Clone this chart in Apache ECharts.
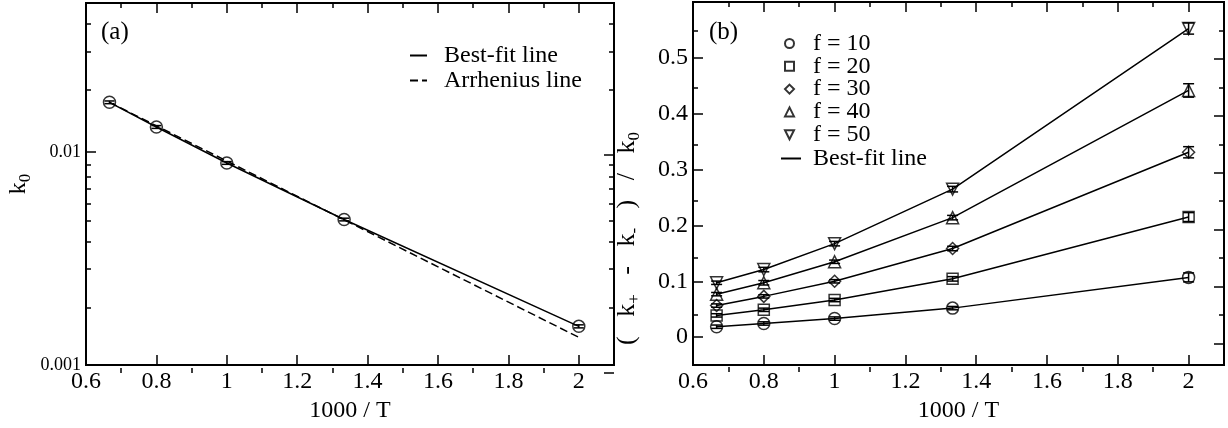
<!DOCTYPE html>
<html><head><meta charset="utf-8">
<script src="https://cdn.jsdelivr.net/npm/echarts@6/dist/echarts.min.js"></script>
<style>html,body{margin:0;padding:0;background:#fff}#c{width:1228px;height:428px}</style>
</head><body><div id="c"></div>
<script>
// ---------- data ----------
const invT = [0.6667, 0.8, 1.0, 1.3333, 2.0];
const k0 = [0.0171, 0.0131, 0.00888, 0.00482, 0.00152];
const k0Err = [0.00025, 0.0002, 0.00013, 0.00007, 0.000025];
const bestFitX = [0.6667, 0.8, 1.0, 1.3333, 2.0];
const bestFitA = [0.0171, 0.0131, 0.00888, 0.00482, 0.00152];
const arrheniusX = [0.6667, 2.0];
const arrheniusA = [0.0171, 0.00135];

const f10 = [0.0187, 0.0245, 0.0333, 0.052, 0.107];
const f20 = [0.039, 0.049, 0.0665, 0.1044, 0.215];
const f30 = [0.0566, 0.073, 0.100, 0.1587, 0.331];
const f40 = [0.077, 0.0974, 0.135, 0.214, 0.4417];
const f50 = [0.0974, 0.121, 0.1674, 0.265, 0.5525];
const err10 = [0.003, 0.003, 0.003, 0.003, 0.008];
const err20 = [0.003, 0.003, 0.003, 0.004, 0.008];
const err30 = [0.003, 0.003, 0.003, 0.004, 0.010];
const err40 = [0.003, 0.004, 0.003, 0.004, 0.012];
const err50 = [0.003, 0.004, 0.004, 0.005, 0.010];
const fNames = ['f = 10', 'f = 20', 'f = 30', 'f = 40', 'f = 50'];

const xMajorTicks = [0.6, 0.8, 1, 1.2, 1.4, 1.6, 1.8, 2];
const xMinorTicks = [0.7, 0.9, 1.1, 1.3, 1.5, 1.7, 1.9];
const yLabelsA = [0.001, 0.01];
const yMinorTicksA = [0.002, 0.003, 0.004, 0.005, 0.006, 0.007, 0.008, 0.009, 0.02, 0.03, 0.04];
const yMajorTicksB = [0, 0.1, 0.2, 0.3, 0.4, 0.5, 0.6];
const yLabelsB = [0, 0.1, 0.2, 0.3, 0.4, 0.5];
const yMinorTicksB = [0.05, 0.15, 0.25, 0.35, 0.45, 0.55];
const xName = '1000 / T';

// ---------- chart ----------
const font = 'Liberation Serif';
const black = '#000';
const clear = 'rgba(0,0,0,0)';
const rectA = {left: 86, top: 3, width: 528, height: 370};
const rectB = {left: 693, top: 2, width: 531, height: 370};
const kMin = 0.001, kMax = 0.05;

const grids = [], xAxes = [], yAxes = [];
function tickStyle(vals, len) {
  const t = {show: true, inside: true, length: len, lineStyle: {color: black, width: 1.5}};
  if (vals) t.customValues = vals;
  return t;
}
// roles: 0 = bottom/left major (+labels, names, series), 1 = bottom/left minor, 2 = top/right major, 3 = top/right minor
function addPanel(rect, yCfg) {
  for (let role = 0; role < 4; role++) {
    const gi = grids.length;
    grids.push(Object.assign({show: role === 0, borderColor: black, borderWidth: 2, backgroundColor: 'transparent', containLabel: false}, rect));
    const far = role >= 2, major = role % 2 === 0;
    const xa = {
      type: 'value', gridIndex: gi, position: far ? 'top' : 'bottom', min: 0.6, max: 2.1,
      axisLine: {show: false, onZero: false}, splitLine: {show: false},
      axisTick: tickStyle(major ? xMajorTicks : xMinorTicks, major ? 10 : 5),
      axisLabel: {show: false}
    };
    const ya = Object.assign({
      gridIndex: gi, position: far ? 'right' : 'left',
      axisLine: {show: false, onZero: false}, splitLine: {show: false},
      axisTick: tickStyle(major ? yCfg.major : yCfg.minor, major ? 10 : 5),
      axisLabel: {show: false}
    }, major ? yCfg.scale : yCfg.minorScale);
    if (role === 0) {
      xa.axisLabel = {show: true, customValues: xMajorTicks, margin: 5, color: black, fontFamily: font, fontSize: 24};
      xa.name = xName; xa.nameLocation = 'middle'; xa.nameGap = 29;
      xa.nameTextStyle = {color: black, fontFamily: font, fontSize: 24};
      ya.axisLabel = {show: true, customValues: yCfg.labels, margin: 5, color: black, fontFamily: font, fontSize: yCfg.labelSize};
      ya.name = yCfg.name; ya.nameLocation = 'middle'; ya.nameGap = yCfg.nameGap;
      ya.nameTextStyle = {color: black, fontFamily: font, fontSize: yCfg.nameSize, padding: yCfg.namePad,
        rich: {
          n: {fontFamily: font, fontSize: yCfg.nameSize, lineHeight: yCfg.nameSize + 3, verticalAlign: 'top', color: black},
          s: {fontFamily: font, fontSize: 17, lineHeight: 17, verticalAlign: 'bottom', color: black}
        }};
    }
    xAxes.push(xa); yAxes.push(ya);
  }
}
// panel (a): log axis; minor ticks placed on a companion axis spanning the same decades
addPanel(rectA, {
  scale: {type: 'log', logBase: 10, min: kMin, max: kMax},
  minorScale: {type: 'value', min: Math.log10(kMin), max: Math.log10(kMax)},
  major: null, minor: yMinorTicksA.map(Math.log10), labels: yLabelsA, labelSize: 18,
  name: '{n|k}{s|0}', nameSize: 24, nameGap: 52, namePad: [0, 0, 0, 0]
});
addPanel(rectB, {
  scale: {type: 'value', min: -0.05, max: 0.6},
  minorScale: {type: 'value', min: -0.05, max: 0.6},
  major: yMajorTicksB, minor: yMinorTicksB, labels: yLabelsB, labelSize: 24,
  name: '{n|(   k}{s|+}{n|   -   k}{s|-}{n|   )   /   k}{s|0}', nameSize: 26, nameGap: 50, namePad: [0, 110, 0, 0]
});

function errBarSeries(axisIdx, vals, errs, capHalf) {
  return {
    type: 'custom', xAxisIndex: axisIdx, yAxisIndex: axisIdx, silent: true, z: 4,
    data: invT.map((x, i) => [x, vals[i] - errs[i], vals[i] + errs[i]]),
    renderItem: function (params, api) {
      const lo = api.coord([api.value(0), api.value(1)]);
      const hi = api.coord([api.value(0), api.value(2)]);
      const st = {stroke: black, lineWidth: 1.5};
      return {type: 'group', children: [
        {type: 'line', shape: {x1: lo[0], y1: lo[1], x2: hi[0], y2: hi[1]}, style: st},
        {type: 'line', shape: {x1: lo[0] - capHalf, y1: lo[1], x2: lo[0] + capHalf, y2: lo[1]}, style: st},
        {type: 'line', shape: {x1: hi[0] - capHalf, y1: hi[1], x2: hi[0] + capHalf, y2: hi[1]}, style: st}
      ]};
    }
  };
}
const hollow = {color: clear, borderColor: black, borderWidth: 1.5};
const lineItem = {color: clear, borderColor: clear, borderWidth: 0};
const series = [];
// panel (a)
series.push({type: 'line', name: 'Best-fit line', xAxisIndex: 0, yAxisIndex: 0, symbol: 'none',
  data: bestFitX.map((x, i) => [x, bestFitA[i]]), lineStyle: {color: black, width: 1.5}, itemStyle: lineItem, z: 3});
series.push({type: 'line', name: 'Arrhenius line', xAxisIndex: 0, yAxisIndex: 0, symbol: 'none',
  data: arrheniusX.map((x, i) => [x, arrheniusA[i]]), lineStyle: {color: black, width: 1.5, type: [8, 4]}, itemStyle: lineItem, z: 3});
series.push({type: 'scatter', name: 'k0', xAxisIndex: 0, yAxisIndex: 0, symbol: 'circle', symbolSize: 12,
  data: invT.map((x, i) => [x, k0[i]]), itemStyle: hollow, z: 5});
series.push(errBarSeries(0, k0, k0Err, 5));
// panel (b)
const fData = [f10, f20, f30, f40, f50];
const fErr = [err10, err20, err30, err40, err50];
const fSym = ['circle', 'rect', 'diamond', 'triangle', 'path://M0,0L10,0L5,10Z'];
const fSize = [12, 11, 12, 12, 12];
fData.forEach((d) => {
  series.push({type: 'line', name: 'Best-fit line', xAxisIndex: 4, yAxisIndex: 4, symbol: 'none',
    data: invT.map((x, i) => [x, d[i]]), lineStyle: {color: black, width: 1.5}, itemStyle: lineItem, z: 3});
});
fData.forEach((d, k) => {
  series.push({type: 'scatter', name: fNames[k], xAxisIndex: 4, yAxisIndex: 4, symbol: fSym[k], symbolKeepAspect: true,
    symbolSize: fSize[k], data: invT.map((x, i) => [x, d[i]]), itemStyle: hollow, z: 5});
  series.push(errBarSeries(4, d, fErr[k], 5.5));
});

const legendText = {color: black, fontFamily: font, fontSize: 24};
const option = {
  animation: false,
  backgroundColor: '#fff',
  title: [
    {text: '(a)', left: 101, top: 20, padding: 0, textStyle: {color: black, fontFamily: font, fontSize: 25, fontWeight: 'normal'}},
    {text: '(b)', left: 709, top: 20, padding: 0, textStyle: {color: black, fontFamily: font, fontSize: 25, fontWeight: 'normal'}}
  ],
  legend: [
    {data: ['Best-fit line', 'Arrhenius line'], orient: 'vertical', left: 409, top: 43, padding: 0, itemGap: 0,
      itemWidth: 17, itemHeight: 8, align: 'left', selectedMode: false,
      textStyle: Object.assign({lineHeight: 25, padding: [0, 0, 0, 12]}, legendText)},
    {data: fNames, orient: 'vertical', left: 784, top: 31.5, padding: 0, itemGap: -1.2,
      itemWidth: 9, itemHeight: 9, align: 'left', selectedMode: false,
      textStyle: Object.assign({lineHeight: 22, padding: [0, 0, 0, 14]}, legendText)},
    {data: ['Best-fit line'], orient: 'vertical', left: 780, top: 146.5, padding: 0,
      itemWidth: 20, itemHeight: 8, align: 'left', selectedMode: false,
      textStyle: Object.assign({lineHeight: 22, padding: [0, 0, 0, 7]}, legendText)}
  ],
  grid: grids, xAxis: xAxes, yAxis: yAxes, series: series
};
const chart = echarts.init(document.getElementById('c'), null, {renderer: 'canvas'});
chart.setOption(option);
</script></body></html>
